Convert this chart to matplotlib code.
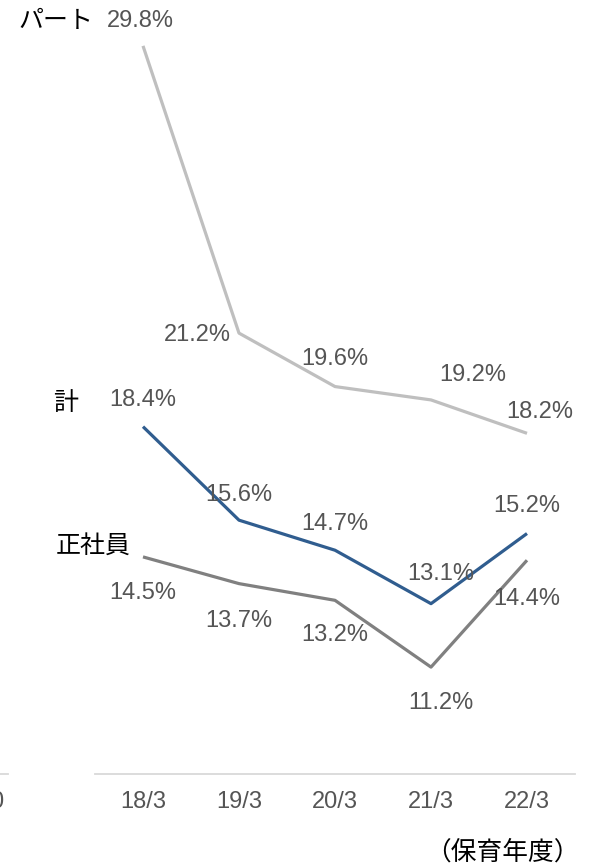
import matplotlib.pyplot as plt
from matplotlib.lines import Line2D

plt.rcParams['font.family'] = ['Liberation Sans', 'Noto Sans CJK JP', 'DejaVu Sans']

years = ['18/3', '19/3', '20/3', '21/3', '22/3']
part = [29.8, 21.2, 19.6, 19.2, 18.2]
total = [18.4, 15.6, 14.7, 13.1, 15.2]
regular = [14.5, 13.7, 13.2, 11.2, 14.4]

c_part = '#BFBFBF'
c_total = '#305D8F'
c_reg = '#808080'
c_txt = '#555555'

fig = plt.figure(figsize=(5.9, 8.67), dpi=100)
ax = fig.add_axes([95 / 590, (867 - 774) / 867, 480 / 590, 774 / 867])

x = list(range(len(years)))
ax.plot(x, part, color=c_part, lw=2.3, solid_capstyle='butt')
ax.plot(x, total, color=c_total, lw=2.3, solid_capstyle='butt')
ax.plot(x, regular, color=c_reg, lw=2.3, solid_capstyle='butt')

ax.set_xlim(-0.5, 4.5)
ax.set_ylim(8.0, 8.0 + 774 / 33.4)

# value labels: (dx, dy) offsets in points
fs = 17
part_off = [(-2, 18), (-30, -1), (0, 20), (30, 18), (9, 15)]
total_off = [(0, 19), (0, 18), (0, 19), (7, 21), (0, 20)]
reg_off = [(0, -26), (0, -27), (0, -25), (7, -26), (0, -28)]
for series, offs in ((part, part_off), (total, total_off), (regular, reg_off)):
    for xi, v, (dx, dy) in zip(x, series, offs):
        ax.annotate(f'{v:.1f}%', (xi, v), xytext=(dx, dy), textcoords='offset points',
                    ha='center', va='center', fontsize=fs, color=c_txt)

# series names
ax.annotate('パート', (0, part[0]), xytext=(-63, 18), textcoords='offset points',
            ha='center', va='center', fontsize=18, color='black')
ax.annotate('計', (0, total[0]), xytext=(-56, 17), textcoords='offset points',
            ha='center', va='center', fontsize=18, color='black')
ax.annotate('正社員', (0, regular[0]), xytext=(-36, 8), textcoords='offset points',
            ha='center', va='center', fontsize=18, color='black')

for side in ('top', 'right', 'left'):
    ax.spines[side].set_visible(False)
ax.spines['bottom'].set_color('#D9D9D9')
ax.spines['bottom'].set_linewidth(1.3)
ax.set_yticks([])
ax.set_xticks(x)
ax.set_xticklabels(years, fontsize=17, color=c_txt)
ax.tick_params(axis='x', length=0, pad=12)

# edge of the neighbouring panel
fig.add_artist(Line2D([0, 8 / 590], [(867 - 774) / 867] * 2, color='#D9D9D9', lw=1.3))
fig.text(3 / 590, 1 - 802 / 867, '0', ha='right', va='center', fontsize=17, color=c_txt)

fig.text(502 / 590, 1 - 852 / 867, '（保育年度）', ha='center', va='center',
         fontsize=18.5, color='black')

fig.savefig('out.png', dpi=100)
